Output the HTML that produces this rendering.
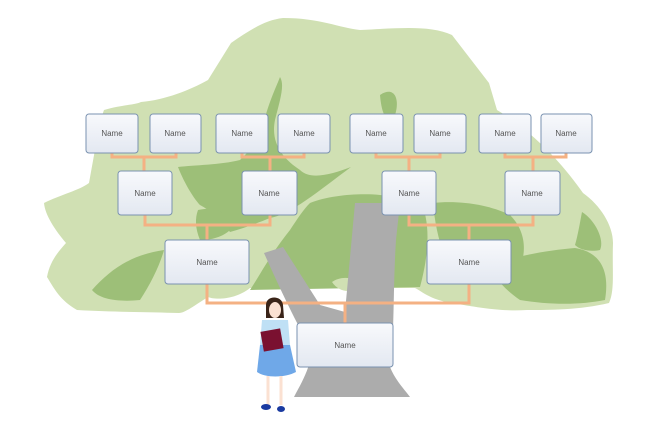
<!DOCTYPE html><html><head><style>body{margin:0;background:#fff}svg{display:block}</style></head><body>
<svg width="650" height="431" viewBox="0 0 650 431" xmlns="http://www.w3.org/2000/svg">
<defs><linearGradient id="g" x1="0" y1="0" x2="0" y2="1"><stop offset="0" stop-color="#f8f9fc"/><stop offset="1" stop-color="#e3e8f1"/></linearGradient></defs>
<path d="M283 18 C320 18 340 28 360 30 C400 28 430 25 452 35 L489 83 L497 110 C530 130 560 160 583 193 C600 205 613 225 613 243 C612 270 615 290 609 303 C580 310 550 310 527 310 C500 312 470 306 452 303 C430 300 420 290 415 288 L250 288 C235 300 215 300 208 297 C195 305 185 313 179 313 C150 312 110 312 77 310 C60 300 55 290 47 277 C50 260 60 250 66 243 C55 230 45 215 44 203 C60 195 80 190 89 183 C95 150 100 120 104 110 C120 105 135 105 141 102 C165 100 190 90 208 80 L231 43 C250 30 265 20 283 18Z" fill="#d0e0b3"/>
<path d="M280 77 C275 90 265 110 260 140 L240 160 C220 165 195 165 178 167 C185 185 195 200 200 205 C210 210 220 220 230 232 C245 228 260 222 270 218 C290 215 320 190 351 167 C330 175 310 180 300 170 C285 160 270 145 275 120 C280 100 285 85 280 77Z" fill="#9dbf78"/>
<path d="M198 210 C220 205 230 215 230 230 C225 235 215 240 200 240 C195 228 195 218 198 210Z" fill="#9dbf78"/>
<path d="M92 290 C110 270 130 255 164 250 C160 265 150 285 140 300 C120 302 100 300 92 290Z" fill="#9dbf78"/>
<path d="M310 203 C330 195 360 193 380 195 L420 200 C430 220 430 250 420 287 L250 290 C260 275 270 255 290 230 C298 218 303 210 310 203Z" fill="#9dbf78"/>
<path d="M332 282 C340 276 355 276 360 285 C355 293 340 294 332 282Z" fill="#d0e0b3"/>
<path d="M433 203 C460 200 490 205 510 215 C525 230 527 250 520 268 C500 270 470 268 450 265 C440 250 435 225 433 203Z" fill="#9dbf78"/>
<path d="M489 265 C520 255 550 250 575 248 C600 252 610 270 605 300 C580 305 550 305 520 300 C505 290 495 278 489 265Z" fill="#9dbf78"/>
<path d="M380 95 C395 85 400 100 395 115 C390 125 382 120 380 95Z" fill="#9dbf78"/>
<path d="M582 212 C595 220 605 240 600 250 C590 252 580 250 575 245 C578 235 580 222 582 212Z" fill="#9dbf78"/>
<path d="M264 253 L283 247 L320 305 L345 312 L355 203 L400 203 L396 240 C394 270 394 300 393 330 L390 367 C395 380 405 390 410 397 L294 397 C300 385 310 370 312 350 C300 330 285 300 264 253Z" fill="#acacac"/>
<g stroke="#f4b183" stroke-width="3" fill="none">
<path d="M112 153V157H176V153M144 157V171"/>
<path d="M242 153V157H304V153M270 157V171"/>
<path d="M376 153V157H440V153M409 157V171"/>
<path d="M505 153V157H566V153M533 157V171"/>
<path d="M145 215V225H270V215M207 225V240"/>
<path d="M409 215V225H533V215M469 225V240"/>
<path d="M207 284V303H469V284M345 303V323"/>
</g>
<g fill="url(#g)" stroke="#7a92b0" stroke-width="1">
<rect x="86" y="114" width="52" height="39" rx="3"/><rect x="150" y="114" width="51" height="39" rx="3"/>
<rect x="216" y="114" width="52" height="39" rx="3"/><rect x="278" y="114" width="52" height="39" rx="3"/>
<rect x="350" y="114" width="53" height="39" rx="3"/><rect x="414" y="114" width="52" height="39" rx="3"/>
<rect x="479" y="114" width="52" height="39" rx="3"/><rect x="541" y="114" width="51" height="39" rx="3"/>
<rect x="118" y="171" width="54" height="44" rx="3"/><rect x="242" y="171" width="55" height="44" rx="3"/>
<rect x="382" y="171" width="54" height="44" rx="3"/><rect x="505" y="171" width="55" height="44" rx="3"/>
<rect x="165" y="240" width="84" height="44" rx="3"/><rect x="427" y="240" width="84" height="44" rx="3"/>
<rect x="297" y="323" width="96" height="44" rx="3"/>
</g>
<g font-family="Liberation Sans, sans-serif" font-size="8" fill="#555" text-anchor="middle">
<text x="112" y="136">Name</text><text x="175" y="136">Name</text><text x="242" y="136">Name</text><text x="304" y="136">Name</text>
<text x="376" y="136">Name</text><text x="440" y="136">Name</text><text x="505" y="136">Name</text><text x="566" y="136">Name</text>
<text x="145" y="196">Name</text><text x="269" y="196">Name</text><text x="409" y="196">Name</text><text x="532" y="196">Name</text>
<text x="207" y="265">Name</text><text x="469" y="265">Name</text><text x="345" y="348">Name</text>
</g>
<g>
<path d="M266 305 C266 295 282 295 283 305 L284 318 L266 318Z" fill="#3a2418"/>
<ellipse cx="275" cy="310" rx="6" ry="8" fill="#fbe1d2"/>
<path d="M262 320 L288 320 L290 345 L260 345Z" fill="#bfe0f5"/>
<path d="M260 345 L290 345 L296 372 C285 378 265 378 257 372Z" fill="#6fa8e8"/>
<rect x="262" y="330" width="20" height="20" fill="#7a1030" transform="rotate(-10 272 340)"/>
<path d="M268 376 L268 405 M281 376 L281 405" stroke="#fbe1d2" stroke-width="3"/>
<ellipse cx="266" cy="407" rx="5" ry="3" fill="#1a3aa0"/><ellipse cx="281" cy="409" rx="4" ry="3" fill="#1a3aa0"/>
</g>
</svg>
</body></html>
